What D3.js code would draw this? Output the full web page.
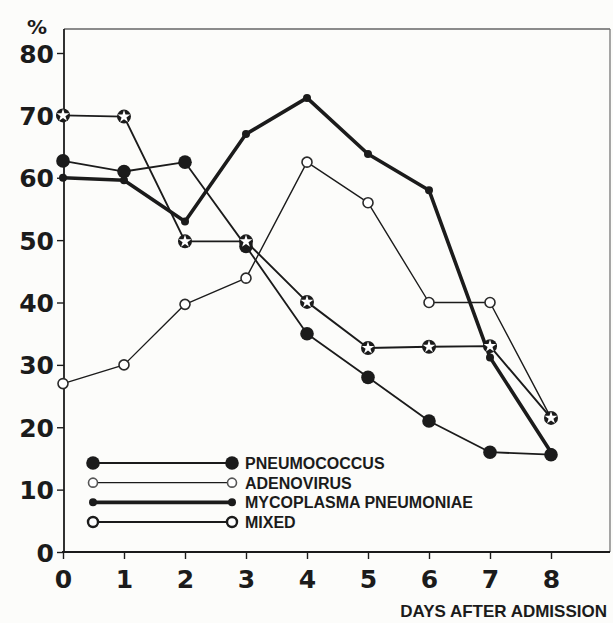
<!DOCTYPE html>
<html>
<head>
<meta charset="utf-8">
<script src="https://cdn.jsdelivr.net/npm/d3@7"></script>
<style>
  html, body { margin: 0; padding: 0; background: #fcfcfa; }
  svg { display: block; }
</style>
</head>
<body>
<svg id="chart" width="613" height="623"></svg>
<script>
const days = [0, 1, 2, 3, 4, 5, 6, 7, 8];
const yTicks = [0, 10, 20, 30, 40, 50, 60, 70, 80];
const seriesNames = ["PNEUMOCOCCUS", "ADENOVIRUS", "MYCOPLASMA PNEUMONIAE", "MIXED"];
const pneumococcus = [62.7, 61, 62.5, 49, 35, 28, 21, 16, 15.6];
const adenovirus = [27, 30, 39.7, 43.9, 62.5, 56, 40, 40, 21.5];
const mycoplasma = [60, 59.6, 53, 67, 72.8, 63.8, 58, 31.2, 16];
const mixed = [70, 69.8, 49.8, 49.8, 40.1, 32.7, 32.9, 33, 21.5];
const xTitle = "DAYS AFTER ADMISSION";
const yUnit = "%";

const ink = "#1b1b1b";
const svg = d3.select("#chart");

const x = d3.scaleLinear().domain([0, 8]).range([63, 551]);
const y = d3.scaleLinear().domain([0, 80]).range([552, 53]);

// frame (top / right thin)
svg.append("line").attr("x1", 64).attr("x2", 610).attr("y1", 29).attr("y2", 29)
  .attr("stroke", "#666").attr("stroke-width", 1.3);
svg.append("line").attr("x1", 610).attr("x2", 610).attr("y1", 29).attr("y2", 552)
  .attr("stroke", "#777").attr("stroke-width", 1.3);

// axes
const yAxis = d3.axisLeft(y).tickValues(yTicks).tickSize(7).tickPadding(3).tickFormat(d3.format("d"));
const gy = svg.append("g").attr("transform", "translate(64,0)").call(yAxis);
gy.select(".domain").remove();
gy.append("line").attr("x1", 0).attr("x2", 0).attr("y1", 29).attr("y2", 553)
  .attr("stroke", ink).attr("stroke-width", 1.8);
gy.selectAll(".tick line").attr("stroke", ink).attr("stroke-width", 1.4);
gy.selectAll(".tick text")
  .attr("font-family", "DejaVu Sans, sans-serif").attr("font-weight", "bold")
  .attr("font-size", 25).attr("fill", ink).attr("dy", "0.36em");

const xAxis = d3.axisBottom(x).tickValues(days).tickSize(7).tickPadding(11).tickFormat(d3.format("d"));
const gx = svg.append("g").attr("transform", "translate(0,552)").call(xAxis);
gx.select(".domain").remove();
gx.append("line").attr("x1", 62).attr("x2", 610).attr("y1", 0).attr("y2", 0)
  .attr("stroke", ink).attr("stroke-width", 1.8);
gx.selectAll(".tick line").attr("stroke", ink).attr("stroke-width", 1.4);
gx.selectAll(".tick text")
  .attr("font-family", "DejaVu Sans, sans-serif").attr("font-weight", "bold")
  .attr("font-size", 25).attr("fill", ink);

svg.append("text").attr("x", 37).attr("y", 34).attr("text-anchor", "middle")
  .attr("font-family", "DejaVu Sans, sans-serif").attr("font-weight", "bold")
  .attr("font-size", 20).attr("fill", ink).text(yUnit);

svg.append("text").attr("x", 607).attr("y", 617).attr("text-anchor", "end")
  .attr("font-family", "Liberation Sans, Arial, sans-serif").attr("font-weight", "bold")
  .attr("font-size", 17).attr("fill", ink).text(xTitle);

// series definitions
const series = [
  { name: seriesNames[0], values: pneumococcus, lw: 1.8, marker: "big" },
  { name: seriesNames[1], values: adenovirus, lw: 1.4, marker: "open" },
  { name: seriesNames[2], values: mycoplasma, lw: 3.6, marker: "dot" },
  { name: seriesNames[3], values: mixed, lw: 1.9, marker: "star" }
];

function drawMarker(g, kind, cx, cy, small) {
  if (kind === "big") {
    g.append("circle").attr("cx", cx).attr("cy", cy).attr("r", 6.8).attr("fill", ink);
  } else if (kind === "open") {
    g.append("circle").attr("cx", cx).attr("cy", cy).attr("r", small ? 4.5 : 5).attr("fill", "#fff")
      .attr("stroke", small ? "#555" : "#2a2a2a").attr("stroke-width", 1.6);
  } else if (kind === "dot") {
    g.append("circle").attr("cx", cx).attr("cy", cy).attr("r", 4).attr("fill", ink);
  } else if (small) {
    g.append("circle").attr("cx", cx).attr("cy", cy).attr("r", 5).attr("fill", "#fff")
      .attr("stroke", ink).attr("stroke-width", 2.4);
  } else {
    g.append("circle").attr("cx", cx).attr("cy", cy).attr("r", 7).attr("fill", ink);
    g.append("path").attr("transform", `translate(${cx},${cy})`)
      .attr("d", d3.symbol().type(d3.symbolStar).size(50)()).attr("fill", "#fff");
  }
}

const line = d3.line().x((d, i) => x(days[i])).y(d => y(d));

series.forEach(s => {
  svg.append("path").attr("d", line(s.values)).attr("fill", "none")
    .attr("stroke", ink).attr("stroke-width", s.lw).attr("stroke-linejoin", "round");
});
series.forEach(s => {
  const g = svg.append("g");
  s.values.forEach((v, i) => drawMarker(g, s.marker, x(days[i]), y(v), false));
});

// legend
const legY = d3.scaleLinear().domain([0, 3]).range([463, 522]);
series.forEach((s, i) => {
  const ly = legY(i);
  const g = svg.append("g");
  g.append("line").attr("x1", 93).attr("x2", 232).attr("y1", ly).attr("y2", ly)
    .attr("stroke", ink).attr("stroke-width", s.lw);
  drawMarker(g, s.marker, 93, ly, true);
  drawMarker(g, s.marker, 232, ly, true);
  g.append("text").attr("x", 245).attr("y", ly + 6)
    .attr("font-family", "Liberation Sans, Arial, sans-serif").attr("font-weight", "bold")
    .attr("font-size", 16).attr("fill", ink).text(s.name);
});
</script>
</body>
</html>
